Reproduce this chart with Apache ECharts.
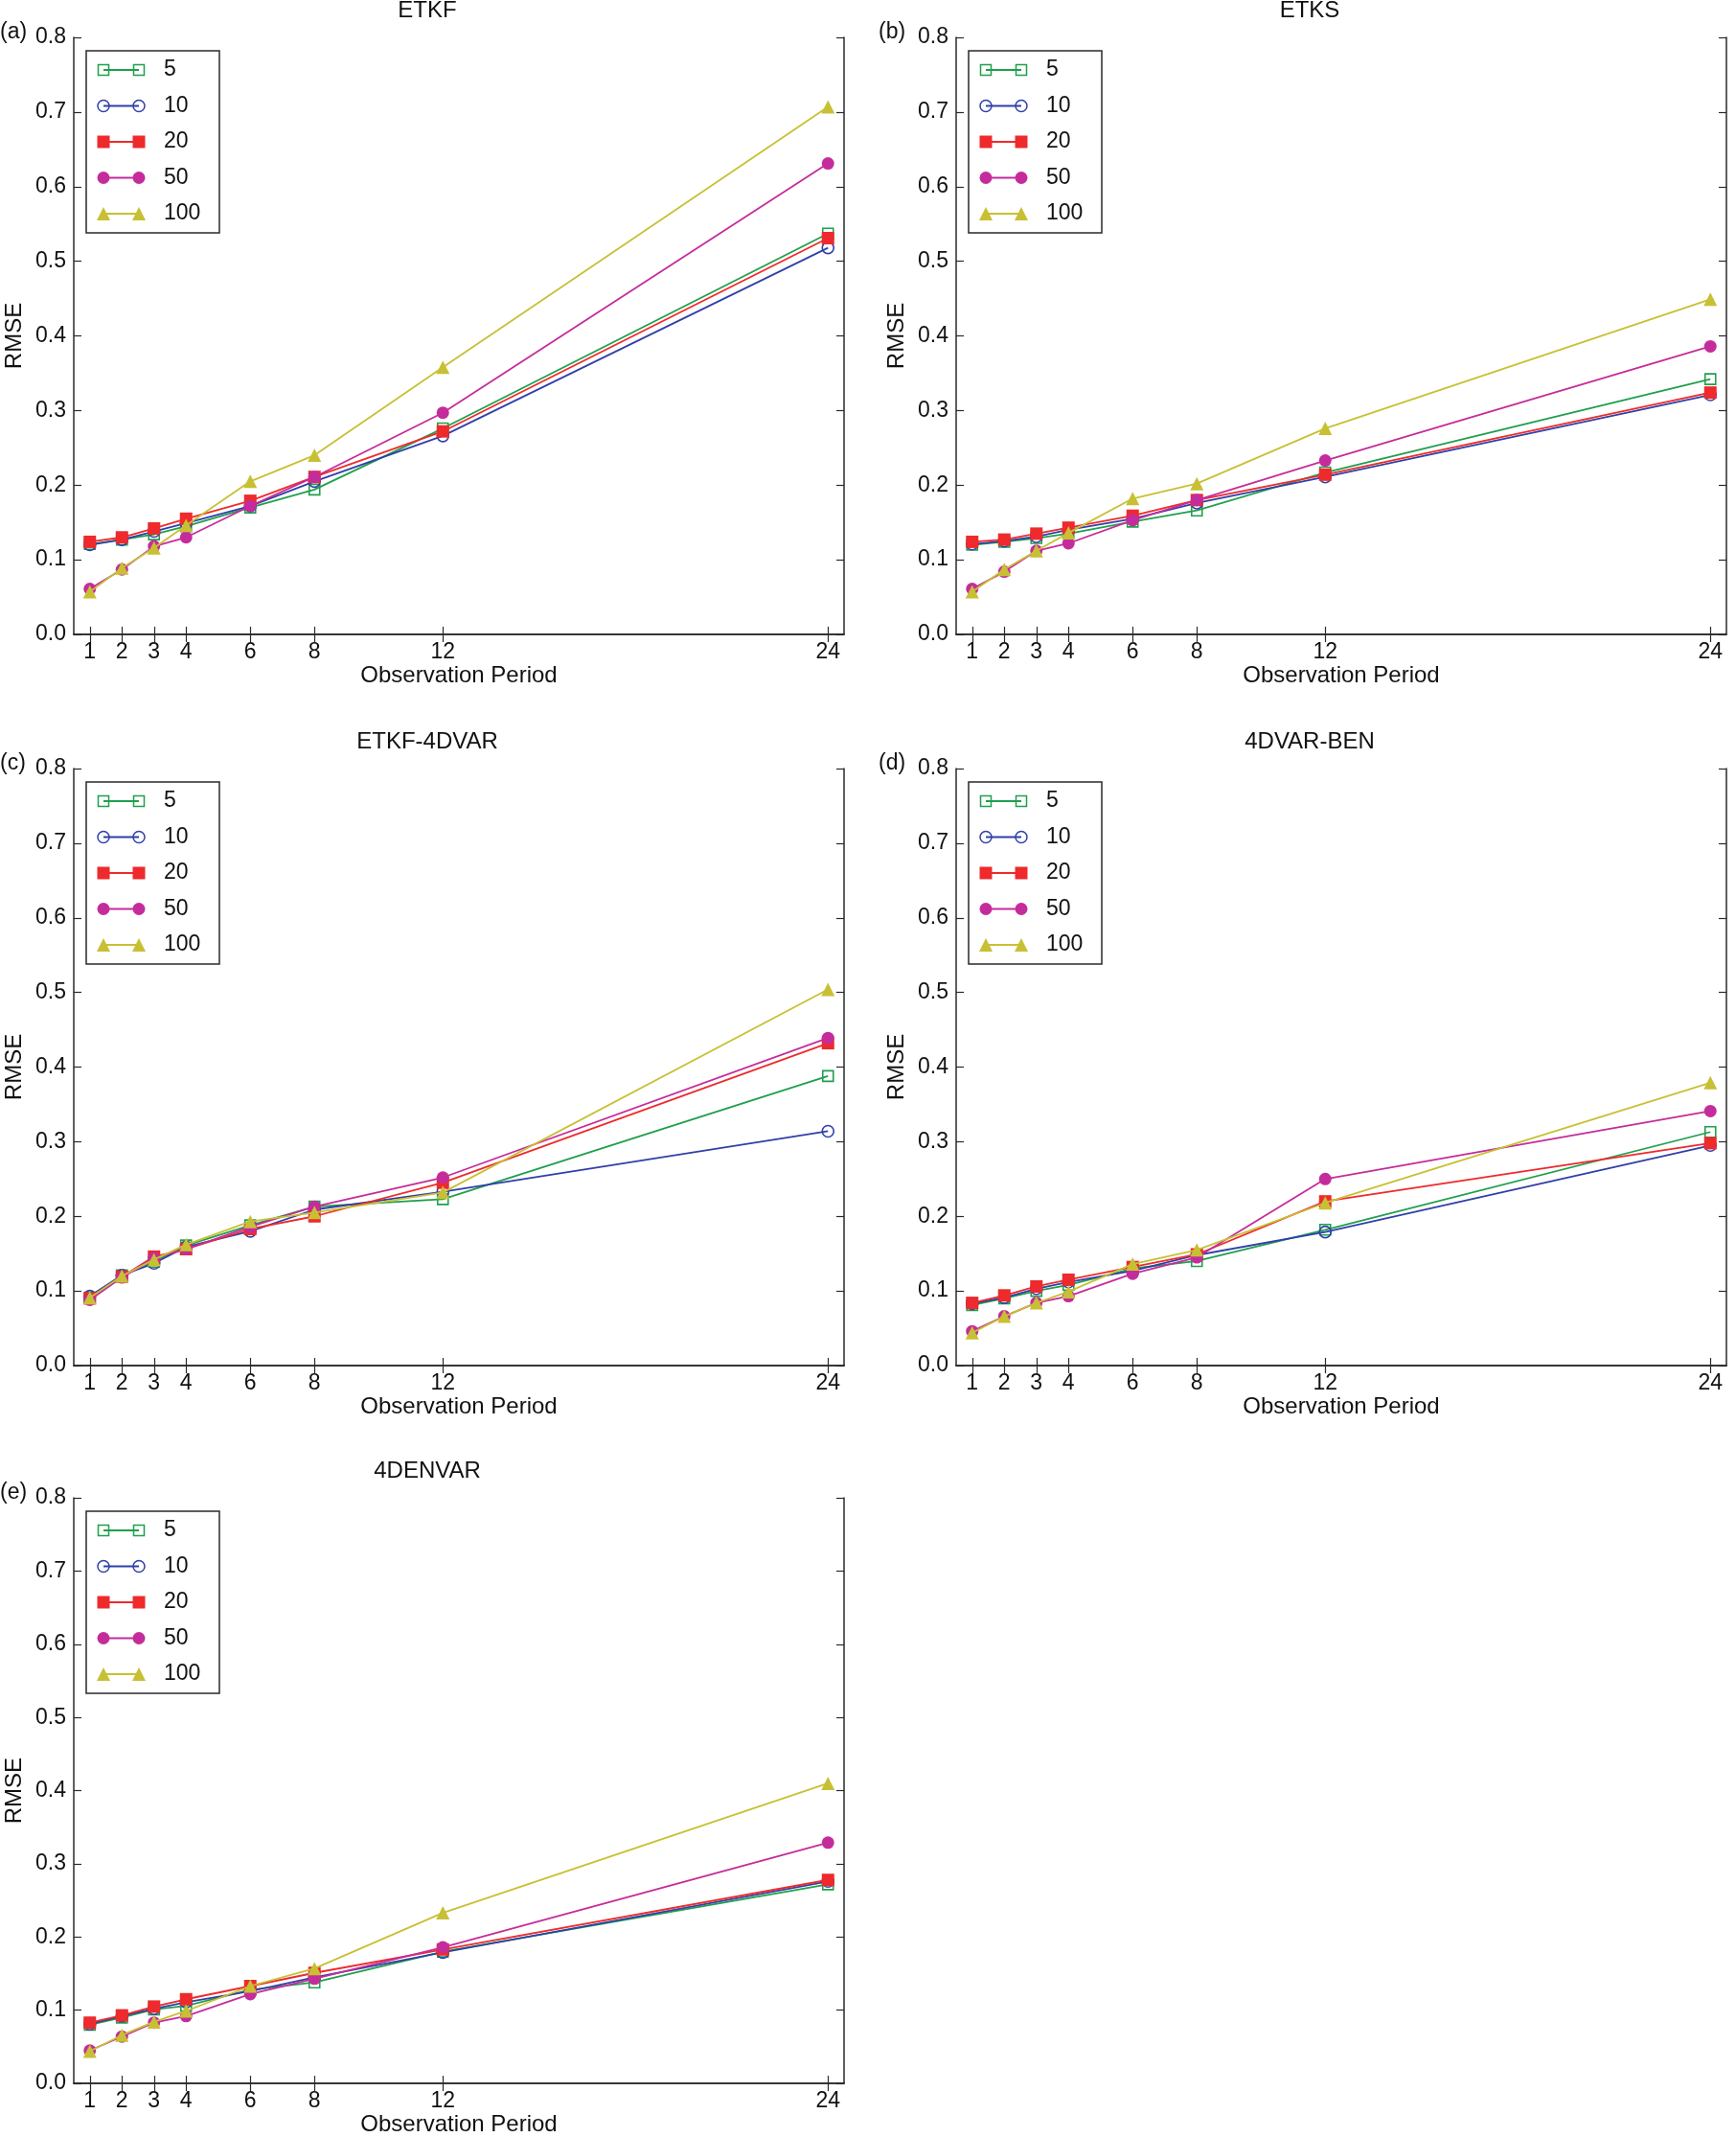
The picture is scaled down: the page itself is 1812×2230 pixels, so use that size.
<!DOCTYPE html>
<html>
	<head>
		<meta charset="utf-8">
		<title>RMSE vs Observation Period</title>
		<script src="https://cdn.jsdelivr.net/npm/echarts@6.0.0/dist/echarts.min.js" type="text/javascript" charset="utf-8"></script>
		<style>
			html,body{margin:0;padding:0;background:#fff;}
			#main{width:1812px;height:2230px;}
		</style>
	</head>
	<body>
		<div id="main"></div>
		<script type="text/javascript">
			// observation periods (x) and ensemble sizes (legend)
			var periods = [1, 2, 3, 4, 6, 8, 12, 24];
			var members = ['5', '10', '20', '50', '100'];
			var yTicks = [0, 0.1, 0.2, 0.3, 0.4, 0.5, 0.6, 0.7, 0.8];

			// RMSE, one row per ensemble size (5,10,20,50,100)
			var etkf = [
				[0.121, 0.127, 0.134, 0.145, 0.170, 0.194, 0.276, 0.537],
				[0.120, 0.127, 0.138, 0.149, 0.172, 0.205, 0.266, 0.518],
				[0.124, 0.130, 0.142, 0.155, 0.179, 0.211, 0.272, 0.531],
				[0.061, 0.087, 0.118, 0.130, 0.172, 0.211, 0.297, 0.631],
				[0.057, 0.089, 0.116, 0.146, 0.205, 0.240, 0.358, 0.707]
			];
			var etks = [
				[0.120, 0.124, 0.129, 0.135, 0.151, 0.166, 0.217, 0.342],
				[0.121, 0.125, 0.131, 0.140, 0.155, 0.176, 0.211, 0.321],
				[0.124, 0.127, 0.135, 0.143, 0.159, 0.180, 0.214, 0.324],
				[0.061, 0.084, 0.112, 0.122, 0.153, 0.180, 0.233, 0.386],
				[0.057, 0.087, 0.112, 0.136, 0.182, 0.202, 0.276, 0.449]
			];
			var etkf4dvar = [
				[0.091, 0.121, 0.139, 0.161, 0.188, 0.213, 0.223, 0.388],
				[0.093, 0.121, 0.137, 0.159, 0.180, 0.209, 0.233, 0.314],
				[0.090, 0.119, 0.146, 0.156, 0.183, 0.200, 0.245, 0.432],
				[0.088, 0.118, 0.144, 0.156, 0.186, 0.213, 0.252, 0.439],
				[0.091, 0.120, 0.142, 0.162, 0.193, 0.205, 0.232, 0.504]
			];
			var var4dBen = [
				[0.081, 0.090, 0.100, 0.108, 0.130, 0.140, 0.182, 0.313],
				[0.083, 0.091, 0.103, 0.112, 0.127, 0.148, 0.179, 0.295],
				[0.084, 0.094, 0.106, 0.115, 0.132, 0.149, 0.220, 0.298],
				[0.046, 0.066, 0.084, 0.093, 0.123, 0.145, 0.250, 0.341],
				[0.044, 0.066, 0.084, 0.099, 0.136, 0.155, 0.218, 0.379]
			];
			var denvar4d = [
				[0.080, 0.090, 0.101, 0.106, 0.128, 0.138, 0.180, 0.272],
				[0.081, 0.092, 0.102, 0.111, 0.126, 0.145, 0.179, 0.276],
				[0.083, 0.093, 0.105, 0.115, 0.133, 0.151, 0.183, 0.278],
				[0.045, 0.064, 0.083, 0.092, 0.122, 0.143, 0.186, 0.329],
				[0.044, 0.066, 0.084, 0.099, 0.133, 0.157, 0.233, 0.410]
			];

			var panelTitles = ['ETKF', 'ETKS', 'ETKF-4DVAR', '4DVAR-BEN', '4DENVAR'];
			var panelTags = ['(a)', '(b)', '(c)', '(d)', '(e)'];
			var panelData = [etkf, etks, etkf4dvar, var4dBen, denvar4d];

			// layout of each plot box (px)
			var boxes = [
				{left: 77, top: 39},
				{left: 998, top: 39},
				{left: 77, top: 802},
				{left: 998, top: 802},
				{left: 77, top: 1563}
			];
			var W = 804, H = 623;
			var FONT = 'Liberation Sans, Arial, Helvetica, sans-serif';
			var AX = '#2a2a2a';

			// marker style per ensemble size
			var styles = [
				{color: '#1f9f4c', symbol: 'rect', size: 11, hollow: true},
				{color: '#3040a8', symbol: 'circle', size: 12, hollow: true},
				{color: '#ee2a2c', symbol: 'rect', size: 13, hollow: false},
				{color: '#c52c9b', symbol: 'circle', size: 13, hollow: false},
				{color: '#c8c034', symbol: 'triangle', size: 14, hollow: false}
			];

			var grids = [], xAxes = [], yAxes = [], series = [], graphics = [];

			function tickStyle(){
				return {show: true, inside: true, length: 8, lineStyle: {color: AX, width: 1.2}};
			}

			function legendMarker(st, cx, cy){
				var s = st.size;
				var style = st.hollow ? {fill: 'none', stroke: st.color, lineWidth: 1.5} : {fill: st.color};
				if(st.symbol == 'rect'){
					return {type: 'rect', shape: {x: cx - s / 2, y: cy - s / 2, width: s, height: s}, style: style, z: 12};
				}else if(st.symbol == 'circle'){
					return {type: 'circle', shape: {cx: cx, cy: cy, r: s / 2}, style: style, z: 12};
				}
				return {type: 'polygon', shape: {points: [[cx, cy - s / 2], [cx + s / 2, cy + s / 2], [cx - s / 2, cy + s / 2]]}, style: style, z: 12};
			}

			for(var i = 0; i < boxes.length; i++){
				var b = boxes[i];
				grids.push({left: b.left, top: b.top, width: W, height: H, containLabel: false});
				// bottom x axis with labels, top one only for ticks
				xAxes.push({
					gridIndex: i, type: 'value', min: 0.5, max: 24.5, position: 'bottom',
					name: 'Observation Period', nameLocation: 'middle', nameGap: 30,
					nameTextStyle: {fontFamily: FONT, fontSize: 24, color: '#111'},
					axisLine: {show: true, lineStyle: {color: AX, width: 1.5}},
					axisTick: Object.assign(tickStyle(), {customValues: periods}),
					axisLabel: {customValues: periods, fontFamily: FONT, fontSize: 23, color: '#111', margin: 7},
					splitLine: {show: false}
				});
				xAxes.push({
					gridIndex: i, type: 'value', min: 0.5, max: 24.5, position: 'top',
					axisLine: {show: true, lineStyle: {color: AX, width: 1.5}},
					axisTick: Object.assign(tickStyle(), {customValues: periods}),
					axisLabel: {show: false}, splitLine: {show: false}
				});
				yAxes.push({
					gridIndex: i, type: 'value', min: 0, max: 0.8, interval: 0.1, position: 'left',
					name: 'RMSE', nameLocation: 'middle', nameGap: 50,
					nameTextStyle: {fontFamily: FONT, fontSize: 24, color: '#111'},
					axisLine: {show: true, lineStyle: {color: AX, width: 1.5}},
					axisTick: tickStyle(),
					axisLabel: {fontFamily: FONT, fontSize: 23, color: '#111', margin: 8,
						customValues: yTicks,
						formatter: function(v){ return v.toFixed(1); }},
					splitLine: {show: false}
				});
				yAxes.push({
					gridIndex: i, type: 'value', min: 0, max: 0.8, interval: 0.1, position: 'right',
					axisLine: {show: true, lineStyle: {color: AX, width: 1.5}},
					axisTick: tickStyle(), axisLabel: {show: false}, splitLine: {show: false}
				});

				for(var k = 0; k < members.length; k++){
					var st = styles[k];
					var pts = periods.map(function(p, j){ return [p, panelData[i][k][j]]; });
					series.push({
						name: members[k], type: 'line', xAxisIndex: i * 2, yAxisIndex: i * 2,
						data: pts, symbol: st.symbol, symbolSize: st.size, showAllSymbol: true,
						lineStyle: {color: st.color, width: 1.8},
						itemStyle: st.hollow ? {color: 'rgba(255,255,255,0)', borderColor: st.color, borderWidth: 1.6} : {color: st.color, borderWidth: 0},
						emphasis: {disabled: true},
						z: 3 + k
					});
				}

				// panel title (sits a bit left of the plot centre, as in the original) and tag
				graphics.push({type: 'text', x: b.left + W / 2 - 33, y: b.top - 28,
					style: {text: panelTitles[i], font: '24px ' + FONT, fill: '#111', align: 'center', verticalAlign: 'middle'}});
				graphics.push({type: 'text', x: b.left - (i % 2 == 0 ? 77 : 81), y: b.top - 5,
					style: {text: panelTags[i], font: '23px ' + FONT, fill: '#111', align: 'left', verticalAlign: 'middle'}});

				// legend box, two markers per entry like the original
				var lx = b.left + 13, ly = b.top + 14;
				graphics.push({type: 'rect', shape: {x: lx, y: ly, width: 139, height: 190},
					style: {fill: '#fff', stroke: AX, lineWidth: 1.5}, z: 10});
				for(var m = 0; m < members.length; m++){
					var cy = ly + 20 + m * 37.5;
					graphics.push({type: 'line', shape: {x1: lx + 18, y1: cy, x2: lx + 55, y2: cy},
						style: {stroke: styles[m].color, lineWidth: 1.8}, z: 11});
					graphics.push(legendMarker(styles[m], lx + 18, cy));
					graphics.push(legendMarker(styles[m], lx + 55, cy));
					graphics.push({type: 'text', x: lx + 81, y: cy, z: 12,
						style: {text: members[m], font: '23px ' + FONT, fill: '#111', align: 'left', verticalAlign: 'middle'}});
				}
			}

			var myChart = echarts.init(document.getElementById('main'), null, {renderer: 'canvas'});
			myChart.setOption({
				animation: false,
				backgroundColor: '#fff',
				grid: grids,
				xAxis: xAxes,
				yAxis: yAxes,
				series: series,
				graphic: {elements: graphics}
			});
		</script>
	</body>
</html>
